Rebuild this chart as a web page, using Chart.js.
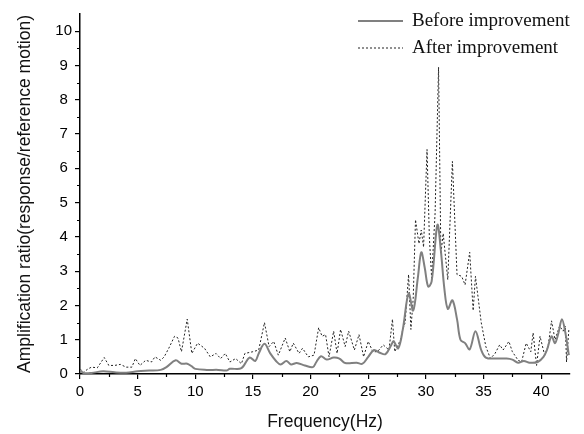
<!DOCTYPE html>
<html>
<head>
<meta charset="utf-8">
<script src="https://cdn.jsdelivr.net/npm/chart.js@4"></script>
<style>
  html, body { margin: 0; padding: 0; background: #fff; }
  #wrap { width: 584px; height: 434px; }
</style>
</head>
<body>
<div id="wrap"><canvas id="myChart" width="584" height="434"></canvas></div>
<script>
// Kurve "Before improvement" (Frequenz in Hz / Verstärkung)
const freqBefore = [0, 0.3, 1, 2, 3, 4, 5, 6, 7, 7.5, 8.3, 8.8, 9.3, 9.7, 10, 11, 12, 12.7, 13, 14, 14.7, 15.2, 15.5, 16, 16.5, 17, 17.4, 17.9, 18.3, 18.8, 19.5, 20.2, 20.5, 20.9, 21.4, 22, 22.5, 23, 24, 24.5, 25, 25.5, 26, 26.5, 27, 27.2, 27.6, 28, 28.5, 28.9, 29.3, 29.6, 29.9, 30.2, 30.5, 31, 31.3, 31.6, 31.9, 32.3, 32.7, 33, 33.4, 33.8, 34.3, 34.8, 35.2, 36, 37, 37.5, 38, 38.5, 39, 39.7, 40.2, 40.5, 40.9, 41.2, 41.5, 41.8, 42.1, 42.4];
const ampBefore  = [0.12, 0.03, 0.03, 0.08, 0.05, 0.04, 0.08, 0.1, 0.12, 0.2, 0.4, 0.3, 0.3, 0.22, 0.15, 0.12, 0.12, 0.1, 0.15, 0.17, 0.48, 0.38, 0.6, 0.88, 0.6, 0.38, 0.28, 0.38, 0.28, 0.32, 0.25, 0.2, 0.35, 0.52, 0.42, 0.48, 0.45, 0.32, 0.33, 0.3, 0.5, 0.7, 0.62, 0.58, 0.85, 0.95, 0.75, 1.3, 2.35, 1.85, 2.8, 3.55, 3.1, 2.55, 2.7, 4.35, 3.6, 2.5, 1.9, 2.15, 1.6, 1.0, 0.9, 0.72, 1.25, 0.7, 0.48, 0.45, 0.45, 0.42, 0.33, 0.38, 0.33, 0.35, 0.5, 0.7, 1.1, 0.9, 1.2, 1.6, 1.2, 0.55];

// Kurve "After improvement"
const freqAfter = [0, 0.3, 0.7, 1, 1.5, 2.1, 2.5, 3, 3.5, 4, 4.5, 4.8, 5.2, 5.7, 6.2, 6.5, 7, 7.3, 7.7, 8.2, 8.5, 8.8, 9.3, 9.7, 10.2, 10.8, 11.3, 11.8, 12.2, 12.6, 13, 13.5, 14, 14.3, 15, 15.5, 16, 16.4, 16.8, 17.2, 17.8, 18.2, 18.5, 19, 19.3, 19.8, 20.3, 20.7, 21, 21.3, 21.6, 22, 22.3, 22.6, 23, 23.3, 23.8, 24.2, 24.6, 25, 25.4, 25.8, 26.3, 26.8, 27.1, 27.3, 27.8, 28, 28.2, 28.5, 28.7, 28.9, 29.1, 29.4, 29.6, 29.8, 30.1, 30.3, 30.5, 30.8, 31.1, 31.3, 31.5, 31.9, 32.3, 32.7, 33.1, 33.4, 33.8, 34.1, 34.3, 34.8, 35.2, 35.6, 36, 36.4, 36.7, 37.2, 37.5, 38, 38.3, 38.7, 39.1, 39.3, 39.6, 39.9, 40.3, 40.6, 40.9, 41.2, 41.6, 41.9, 42.1, 42.2, 42.4];
const ampAfter  = [0.15, 0.05, 0.15, 0.2, 0.18, 0.48, 0.25, 0.25, 0.28, 0.2, 0.2, 0.45, 0.25, 0.4, 0.35, 0.5, 0.4, 0.5, 0.75, 1.1, 1.05, 0.65, 1.6, 0.6, 0.9, 0.75, 0.5, 0.6, 0.45, 0.6, 0.35, 0.45, 0.3, 0.6, 0.65, 0.7, 1.5, 0.8, 0.95, 0.55, 1.05, 0.65, 0.9, 0.6, 0.75, 0.5, 0.55, 1.35, 1.1, 1.15, 0.5, 1.25, 0.6, 1.3, 0.8, 1.25, 0.7, 1.15, 0.5, 0.95, 0.65, 0.65, 0.85, 0.7, 1.6, 0.65, 1.0, 1.3, 1.5, 2.9, 1.3, 2.2, 4.5, 3.8, 4.2, 3.7, 6.55, 4.0, 2.8, 4.7, 8.95, 3.5, 4.1, 2.75, 6.2, 2.9, 2.85, 2.6, 3.55, 1.85, 2.85, 1.5, 0.8, 0.45, 0.6, 0.85, 0.7, 0.95, 0.65, 0.4, 0.35, 0.9, 0.65, 1.2, 0.25, 1.1, 0.55, 0.8, 1.55, 1.0, 1.4, 1.25, 1.4, 0.35, 1.3];

const seriesLabels = ['Before improvement', 'After improvement'];
const xTickValues = [0, 5, 10, 15, 20, 25, 30, 35, 40];

function toPoints(xs, ys) {
    return xs.map((x, i) => ({ x: x, y: ys[i] }));
}

// kleine Zwischenstriche an den Achsen
const minorTicks = {
    id: 'minorTicks',
    afterDraw(chart) {
        const ctx = chart.ctx;
        const xs = chart.scales.x;
        const ys = chart.scales.y;
        ctx.save();
        ctx.strokeStyle = '#000';
        ctx.lineWidth = 1.2;
        ctx.beginPath();
        for (let v = 2.5; v < xs.max; v += 5) {
            const px = Math.round(xs.getPixelForValue(v)) + 0.5;
            ctx.moveTo(px, xs.top);
            ctx.lineTo(px, xs.top + 3);
        }
        for (let v = 0.5; v < ys.max; v += 1) {
            const py = Math.round(ys.getPixelForValue(v)) + 0.5;
            ctx.moveTo(ys.right, py);
            ctx.lineTo(ys.right - 3, py);
        }
        ctx.stroke();
        ctx.restore();
    }
};

// Legende oben rechts, ohne die Plotfläche zu verkleinern
const cornerLegend = {
    id: 'cornerLegend',
    afterDraw(chart) {
        const ctx = chart.ctx;
        const area = chart.chartArea;
        const lineX0 = area.right - 212;
        const lineX1 = area.right - 167;
        const textX = area.right - 158;
        ctx.save();
        ctx.font = '19px "Liberation Serif", "Times New Roman", serif';
        ctx.textBaseline = 'middle';
        chart.data.datasets.forEach((ds, i) => {
            const y = area.top + 7 + i * 27;
            ctx.beginPath();
            ctx.strokeStyle = ds.borderColor;
            ctx.lineWidth = ds.borderWidth;
            ctx.setLineDash(ds.borderDash || []);
            ctx.moveTo(lineX0, y);
            ctx.lineTo(lineX1, y);
            ctx.stroke();
            ctx.setLineDash([]);
            ctx.fillStyle = '#111';
            ctx.fillText(ds.label, textX, y);
        });
        ctx.restore();
    }
};

const ctx = document.getElementById('myChart');

const chart = new Chart(ctx, {
    type: 'line',
    data: {
        datasets: [{
            label: seriesLabels[0],
            data: toPoints(freqBefore, ampBefore),
            borderColor: '#808080',
            borderWidth: 2,
            tension: 0.35,
            pointRadius: 0
        }, {
            label: seriesLabels[1],
            data: toPoints(freqAfter, ampAfter),
            borderColor: '#222',
            borderWidth: 1,
            borderDash: [2, 2],
            tension: 0,
            pointRadius: 0
        }]
    },
    options: {
        responsive: false,
        animation: false,
        events: [],
        layout: { padding: { top: 14, right: 14, left: 0, bottom: 0 } },
        plugins: {
            legend: { display: false },
            tooltip: { enabled: false }
        },
        scales: {
            x: {
                type: 'linear',
                min: 0,
                max: 42.5,
                afterFit: s => { s.height = 60; },
                afterBuildTicks: s => { s.ticks = xTickValues.map(v => ({ value: v })); },
                border: { color: '#000', width: 1.5 },
                grid: { drawOnChartArea: false, tickLength: 5, color: '#000', lineWidth: 1.2 },
                ticks: {
                    color: '#000',
                    padding: 4,
                    maxRotation: 0,
                    font: { family: '"Liberation Sans", Arial, sans-serif', size: 15 }
                },
                title: {
                    display: true,
                    text: 'Frequency(Hz)',
                    color: '#111',
                    padding: { top: 0, bottom: 1 },
                    font: { family: '"Liberation Sans", Arial, sans-serif', size: 17.5 }
                }
            },
            y: {
                min: 0,
                max: 10.5,
                afterFit: s => { s.width = 80; },
                border: { color: '#000', width: 1.5 },
                grid: { drawOnChartArea: false, tickLength: 5, color: '#000', lineWidth: 1.2 },
                ticks: {
                    stepSize: 1,
                    includeBounds: false,
                    color: '#000',
                    padding: 3,
                    crossAlign: 'center',
                    font: { family: '"Liberation Sans", Arial, sans-serif', size: 15 }
                },
                title: {
                    display: true,
                    text: 'Amplification ratio(response/reference motion)',
                    color: '#111',
                    padding: { top: 15, bottom: 0 },
                    font: { family: '"Liberation Sans", Arial, sans-serif', size: 17.5 }
                }
            }
        }
    },
    plugins: [minorTicks, cornerLegend]
});
</script>
</body>
</html>
